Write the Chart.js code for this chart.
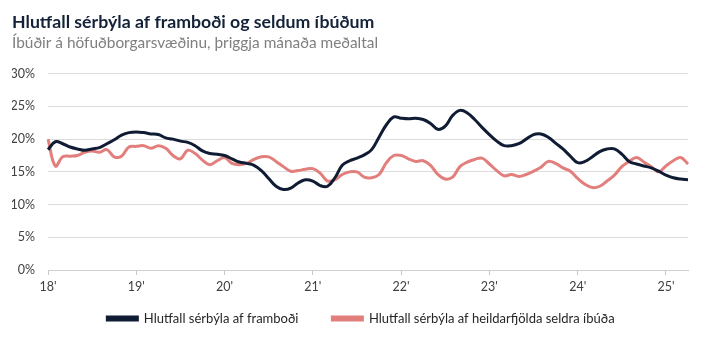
<!DOCTYPE html>
<html>
<head>
<meta charset="utf-8">
<script src="https://cdn.jsdelivr.net/npm/chart.js@4.4.1/dist/chart.umd.min.js"></script>
<style>
  html, body { margin: 0; padding: 0; background: #fff; }
  #wrap { width: 713px; height: 341px; }
</style>
</head>
<body>
<div id="wrap"><canvas id="chart" width="713" height="341"></canvas></div>
<script>
// one label per year, monthly points from Jan 2018 to Apr 2025
const yearLabels = ["18'", "19'", "20'", "21'", "22'", "23'", "24'", "25'"];
const monthCount = 88;

// Hlutfall sérbýla af framboði (%)
const supplyShare = [
  18.4, 19.6, 19.3, 18.8, 18.5, 18.3, 18.5, 18.7, 19.3, 19.9, 20.6, 21.0,
  21.1, 21.0, 20.8, 20.7, 20.2, 20.0, 19.7, 19.5, 19.0, 18.2, 17.8, 17.7,
  17.5, 17.0, 16.5, 16.3, 16.0, 15.2, 14.0, 12.8, 12.3, 12.5, 13.3, 13.8,
  13.6, 12.9, 12.8, 14.1, 16.0, 16.7, 17.1, 17.6, 18.4, 20.3, 22.2, 23.4,
  23.2, 23.1, 23.2, 23.0, 22.4, 21.5, 22.0, 23.6, 24.4, 24.0, 23.0, 21.8,
  20.7, 19.7, 19.0, 19.0, 19.3, 20.0, 20.7, 20.8, 20.3, 19.4, 18.5, 17.4,
  16.4, 16.6, 17.3, 18.1, 18.5, 18.5, 17.7, 16.6, 16.2, 15.9, 15.6, 15.1,
  14.5, 14.1, 13.9, 13.8,
];

// Hlutfall sérbýla af heildarfjölda seldra íbúða (%)
const salesShare = [
  20.0, 15.9, 17.3, 17.4, 17.5, 18.0, 18.2, 18.0, 18.4, 17.3, 17.4, 18.8,
  18.9, 19.0, 18.6, 19.0, 18.6, 17.5, 17.0, 18.3, 17.8, 16.8, 16.1, 16.7,
  17.2, 16.3, 16.1, 16.3, 16.9, 17.3, 17.3, 16.6, 15.8, 15.1, 15.2, 15.4,
  15.5, 14.8, 13.6, 13.8, 14.6, 15.0, 15.0, 14.2, 14.1, 14.6, 16.4, 17.5,
  17.5, 17.0, 16.6, 16.7, 16.0, 14.6, 13.9, 14.2, 15.8, 16.5, 16.9, 17.1,
  16.2, 15.2, 14.4, 14.6, 14.3, 14.6, 15.1, 15.7, 16.6, 16.3, 15.6, 15.1,
  14.0, 13.1, 12.6, 12.8, 13.6, 14.5, 15.8, 16.6, 17.2, 16.5, 15.8, 15.0,
  15.9, 16.7, 17.2, 16.2,
];

const seriesNames = [
  "Hlutfall sérbýla af framboði",
  "Hlutfall sérbýla af heildarfjölda seldra íbúða",
];

let labels = [];
for (let i = 0; i < monthCount; i++) {
  labels.push(i % 12 === 0 ? yearLabels[i / 12] : "");
}

// nudge the legend a bit right, the original is centred on the whole image
const legendShift = {
  id: "legendShift",
  afterLayout(chart) {
    chart.legend.left += 11;
    chart.legend.right += 11;
  },
};

const font = "Lato";
const ctx = document.getElementById("chart");
const chart = new Chart(ctx, {
  type: "line",
  data: {
    labels: labels,
    datasets: [
      {
        label: seriesNames[0],
        data: supplyShare,
        borderColor: "#0f1c33",
        backgroundColor: "#0f1c33",
        borderWidth: 3,
        pointRadius: 0,
        tension: 0.4,
      },
      {
        label: seriesNames[1],
        data: salesShare,
        borderColor: "#e27f7c",
        backgroundColor: "#e27f7c",
        borderWidth: 3,
        pointRadius: 0,
        tension: 0.4,
      },
    ],
  },
  plugins: [legendShift],
  options: {
    responsive: false,
    animation: false,
    layout: {
      padding: { left: 12, right: 25, top: 8, bottom: 6 },
    },
    plugins: {
      title: {
        display: true,
        text: "Hlutfall sérbýla af framboði og seldum íbúðum",
        align: "start",
        color: "#142238",
        font: { family: font, size: 17.7, weight: "bold" },
        padding: { top: 4, bottom: 0 },
      },
      subtitle: {
        display: true,
        text: "Íbúðir á höfuðborgarsvæðinu, þriggja mánaða meðaltal",
        align: "start",
        color: "#7f7f7f",
        font: { family: font, size: 15.4 },
        padding: { top: 1, bottom: 21 },
      },
      legend: {
        position: "bottom",
        labels: {
          color: "#262626",
          font: { family: font, size: 13 },
          boxWidth: 30,
          boxHeight: 3,
          padding: 14,
          // wider gap between the two entries, like the original
          generateLabels: (c) => {
            let items = Chart.defaults.plugins.legend.labels.generateLabels(c);
            items.forEach((it, i) => {
              if (i < items.length - 1) it.text = it.text + "      ";
            });
            return items;
          },
        },
      },
      tooltip: { enabled: false },
    },
    scales: {
      x: {
        ticks: {
          autoSkip: false,
          maxRotation: 0,
          color: "#404040",
          font: { family: font, size: 12.5 },
          padding: 4,
        },
        grid: {
          drawOnChartArea: false,
          tickLength: 5,
          color: (c) => (labels[c.index] ? "#c8c8c8" : "rgba(0,0,0,0)"),
        },
        border: { color: "#d0d0d0" },
      },
      y: {
        min: 0,
        max: 30,
        ticks: {
          stepSize: 5,
          color: "#404040",
          font: { family: font, size: 12.5 },
          padding: 13,
          callback: (v) => v + "%",
        },
        grid: { color: "#dcdcdc", drawTicks: false },
        border: { display: false },
        afterFit: (s) => {
          s.width = 36;
        },
      },
    },
  },
});
</script>
</body>
</html>
